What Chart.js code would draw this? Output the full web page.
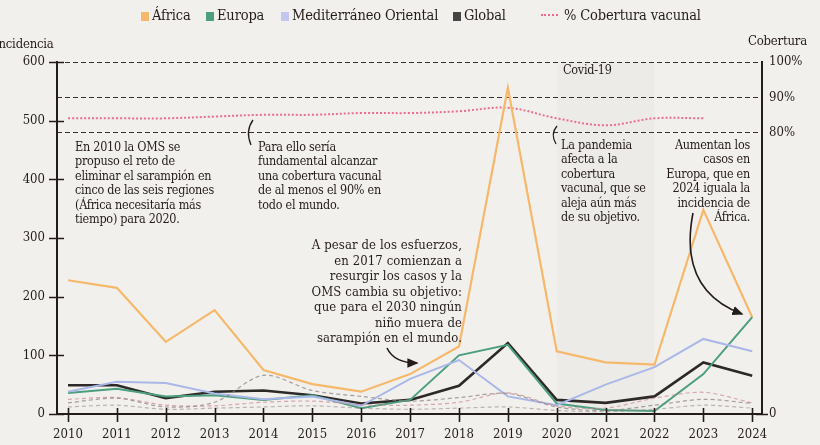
<!DOCTYPE html>
<html lang="es">
<head>
<meta charset="utf-8">
<title>Sarampión: incidencia y cobertura vacunal</title>
<script src="https://cdn.jsdelivr.net/npm/chart.js@4.4.1/dist/chart.umd.min.js"></script>
<style>
    html, body { margin: 0; padding: 0; background: #f2f0ec; }
    #wrap {
        position: relative; width: 820px; height: 445px; overflow: hidden;
        font-family: "DejaVu Serif Condensed", "Liberation Serif", serif; color: #241c1c;
    }
    #chart { position: absolute; left: 0; top: 0; }
    .legend-item { position: absolute; top: 6px; font-size: 14.5px; line-height: 18px; white-space: nowrap; letter-spacing: -0.15px; }
    .swatch { display: inline-block; width: 8px; height: 9px; margin-right: 3px; vertical-align: -1px; }
    .dash { display: inline-block; width: 17px; border-top: 2px dotted #ef6b8f; margin-right: 6px; vertical-align: 4px; }
    .axis-title { position: absolute; font-size: 13px; letter-spacing: -0.2px; }
    .note { position: absolute; font-size: 12.5px; line-height: 14.4px; letter-spacing: -0.25px; white-space: nowrap; }
    .right { text-align: right; }
    svg { position: absolute; left: 0; top: 0; }
</style>
</head>
<body>
<div id="wrap">
    <canvas id="chart" width="820" height="445"></canvas>

    <div class="legend-item" style="left:141px"><span class="swatch" style="background:#f6b86a"></span>África</div>
    <div class="legend-item" style="left:206px"><span class="swatch" style="background:#4c9e80"></span>Europa</div>
    <div class="legend-item" style="left:281px"><span class="swatch" style="background:#c3c6f0"></span>Mediterráneo Oriental</div>
    <div class="legend-item" style="left:453px"><span class="swatch" style="background:#444"></span>Global</div>
    <div class="legend-item" style="left:541px"><span class="dash"></span>% Cobertura vacunal</div>

    <div class="axis-title" style="left:-6px; top:36px">Incidencia</div>
    <div class="axis-title" style="left:748px; top:33px">Cobertura</div>

    <div class="note" style="left:563px; top:63px">Covid-19</div>

    <div class="note" style="left:75px; top:140px">En 2010 la OMS se<br>propuso el reto de<br>eliminar el sarampión en<br>cinco de las seis regiones<br>(África necesitaría más<br>tiempo) para 2020.</div>
    <div class="note" style="left:258px; top:140px">Para ello sería<br>fundamental alcanzar<br>una cobertura vacunal<br>de al menos el 90% en<br>todo el mundo.</div>
    <div class="note right" style="right:358px; top:237px; font-size:13px; line-height:15.5px; letter-spacing:0.1px">A pesar de los esfuerzos,<br>en 2017 comienzan a<br>resurgir los casos y la<br>OMS cambia su objetivo:<br>que para el 2030 ningún<br>niño muera de<br>sarampión en el mundo.</div>
    <div class="note" style="left:561px; top:138px">La pandemia<br>afecta a la<br>cobertura<br>vacunal, que se<br>aleja aún más<br>de su objetivo.</div>
    <div class="note right" style="right:70px; top:138px">Aumentan los<br>casos en<br>Europa, que en<br>2024 iguala la<br>incidencia de<br>África.</div>

    <svg width="820" height="445">
        <defs>
            <marker id="head" markerWidth="8" markerHeight="8" refX="6" refY="4" orient="auto">
                <path d="M0,1 L7,4 L0,7 Z" fill="#241c1c"></path>
            </marker>
        </defs>
        <path d="M253,120 Q245,131 251,145" fill="none" stroke="#241c1c" stroke-width="1.3"></path>
        <path d="M557,126 Q550,134 556,144" fill="none" stroke="#241c1c" stroke-width="1.3"></path>
        <path d="M387,348 Q394,363 417,363" fill="none" stroke="#241c1c" stroke-width="1.6" marker-end="url(#head)"></path>
        <path d="M693,213 Q678,290 742,314" fill="none" stroke="#241c1c" stroke-width="1.6" marker-end="url(#head)"></path>
    </svg>
</div>

<script>
// Incidencia de sarampión por región (casos por millón) y cobertura vacunal global

const years = [2010, 2011, 2012, 2013, 2014, 2015, 2016, 2017, 2018, 2019, 2020, 2021, 2022, 2023, 2024];

const africa       = [228, 215, 123, 177, 75, 51, 38, 68, 115, 556, 107, 88, 84, 348, 165];
const europa       = [36, 43, 30, 32, 24, 32, 10, 24, 100, 118, 18, 7, 5, 68, 165];
const mediterraneo = [38, 55, 53, 35, 25, 30, 14, 60, 92, 30, 15, 50, 80, 128, 107];
const global       = [49, 49, 27, 38, 40, 32, 18, 24, 48, 121, 24, 19, 30, 88, 65];

// Otras regiones, sin leyenda (líneas discontinuas tenues)
const otraRegionA = [19, 27, 12, 20, 66, 40, 30, 22, 28, 35, 12, 6, 15, 25, 18];
const otraRegionB = [25, 28, 15, 14, 20, 22, 16, 15, 20, 36, 14, 10, 27, 37, 19];
const otraRegionC = [12, 15, 8, 10, 12, 14, 10, 8, 10, 12, 6, 4, 8, 15, 10];

// % cobertura vacunal global (hasta 2023)
const coberturaYears = [2010, 2011, 2012, 2013, 2014, 2015, 2016, 2017, 2018, 2019, 2020, 2021, 2022, 2023];
const cobertura      = [84, 84, 84, 84.5, 85, 85, 85.5, 85.5, 86, 87, 84, 82, 84, 84];

// Tick labels
const incidenciaTicks = [0, 100, 200, 300, 400, 500, 600];
const coberturaTicks = [0, 80, 90, 100];

const INK = '#241c1c';
const FONT = '"DejaVu Serif Condensed", "Liberation Serif", serif';

function toPoints(xs, ys) {
    return ys.map((y, i) => ({ x: xs[i], y: y }));
}

// Covid band + tick marks crossing the axes
const chartDecor = {
    id: 'chartDecor',
    beforeDatasetsDraw(chart) {
        const { ctx, chartArea, scales } = chart;
        const x0 = scales.x.getPixelForValue(2020);
        const x1 = scales.x.getPixelForValue(2022);
        ctx.save();
        ctx.fillStyle = 'rgba(60, 50, 50, 0.025)';
        ctx.fillRect(x0, chartArea.top, x1 - x0, chartArea.bottom - chartArea.top);
        ctx.restore();
    },
    afterDraw(chart) {
        const { ctx, chartArea, scales } = chart;
        ctx.save();
        ctx.strokeStyle = INK;
        ctx.lineWidth = 1.6;
        ctx.beginPath();
        years.forEach(v => {
            const x = Math.round(scales.x.getPixelForValue(v)) + 0.5;
            ctx.moveTo(x, chartArea.bottom - 6);
            ctx.lineTo(x, chartArea.bottom + 8);
        });
        incidenciaTicks.forEach(v => {
            const y = Math.round(scales.y.getPixelForValue(v)) + 0.5;
            ctx.moveTo(chartArea.left - 8, y);
            ctx.lineTo(chartArea.left + 7, y);
        });
        const y0 = Math.round(scales.y2.getPixelForValue(0)) + 0.5;
        ctx.moveTo(chartArea.right - 6, y0);
        ctx.lineTo(chartArea.right + 6, y0);
        ctx.stroke();
        ctx.restore();
    }
};

function lineSet(label, data, color, width, extra) {
    return Object.assign({
        label: label,
        data: toPoints(years, data),
        borderColor: color,
        backgroundColor: color,
        borderWidth: width,
        pointRadius: 0,
        tension: 0,
        yAxisID: 'y'
    }, extra || {});
}

const ctx = document.getElementById('chart').getContext('2d');

new Chart(ctx, {
    type: 'line',
    data: {
        datasets: [
            lineSet('Otra región A', otraRegionA, 'rgba(140, 130, 130, 0.75)', 1.2, { borderDash: [4, 3], tension: 0.3 }),
            lineSet('Otra región B', otraRegionB, 'rgba(205, 140, 150, 0.75)', 1.2, { borderDash: [4, 3], tension: 0.3 }),
            lineSet('Otra región C', otraRegionC, 'rgba(150, 140, 140, 0.6)', 1.2, { borderDash: [4, 3], tension: 0.3 }),
            lineSet('Mediterráneo Oriental', mediterraneo, '#a9b8e8', 2),
            lineSet('Europa', europa, '#4c9e80', 2),
            lineSet('Global', global, '#2e2929', 2.6),
            lineSet('África', africa, '#f6b86a', 2.2),
            {
                label: '% Cobertura vacunal',
                data: toPoints(coberturaYears, cobertura),
                borderColor: '#ef6b8f',
                borderWidth: 2,
                borderDash: [2, 2],
                pointRadius: 0,
                tension: 0.35,
                yAxisID: 'y2'
            }
        ]
    },
    options: {
        responsive: false,
        animation: false,
        layout: { padding: { top: 62, left: 0, right: 0, bottom: 0 } },
        plugins: {
            legend: { display: false },
            tooltip: { enabled: false }
        },
        scales: {
            x: {
                type: 'linear',
                min: 2009.775,
                max: 2024.2,
                afterBuildTicks: scale => { scale.ticks = years.map(v => ({ value: v })); },
                afterFit: scale => { scale.height = 31; },
                grid: { display: false, drawTicks: false },
                border: { display: true, color: INK, width: 2 },
                ticks: {
                    padding: 13,
                    color: INK,
                    font: { family: FONT, size: 13 },
                    callback: v => String(v)
                }
            },
            y: {
                position: 'left',
                min: 0,
                max: 600,
                afterBuildTicks: scale => { scale.ticks = incidenciaTicks.map(v => ({ value: v })); },
                afterFit: scale => { scale.width = 57; },
                grid: { display: false, drawTicks: false },
                border: { display: true, color: INK, width: 2 },
                ticks: {
                    padding: 12,
                    color: INK,
                    font: { family: FONT, size: 13 }
                }
            },
            y2: {
                position: 'right',
                min: 0,
                max: 100,
                afterBuildTicks: scale => { scale.ticks = coberturaTicks.map(v => ({ value: v })); },
                afterFit: scale => { scale.width = 58; },
                grid: {
                    drawOnChartArea: true,
                    drawTicks: false,
                    color: ctx => ctx.tick && ctx.tick.value === 0 ? 'rgba(0,0,0,0)' : '#3a3030',
                    lineWidth: 1
                },
                border: { display: true, color: INK, width: 2, dash: [5, 3] },
                ticks: {
                    padding: 7,
                    color: INK,
                    font: { family: FONT, size: 13 },
                    callback: v => v === 0 ? '0' : v + '%'
                }
            }
        }
    },
    plugins: [chartDecor]
});
</script>
</body>
</html>
